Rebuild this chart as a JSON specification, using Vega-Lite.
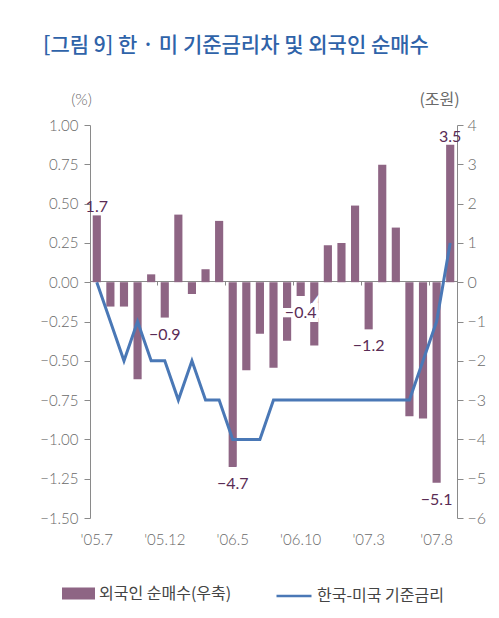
{
  "$schema": "https://vega.github.io/schema/vega-lite/v6.json",
  "width": 367,
  "height": 393,
  "autosize": "none",
  "padding": {"left": 90, "top": 125, "right": 42, "bottom": 100},
  "background": "white",
  "title": {
    "text": "[그림 9] 한 · 미 기준금리차 및 외국인 순매수",
    "anchor": "start",
    "frame": "group",
    "dx": -47,
    "dy": -31,
    "font": "Noto Sans CJK KR",
    "fontSize": 21,
    "fontWeight": 500,
    "color": "#2f63a9"
  },
  "data": {
    "values": [
      {"month": "'05.7", "net": 1.7, "rate": 0, "label": "1.7"},
      {"month": "'05.8", "net": -0.62, "rate": -0.25, "label": null},
      {"month": "'05.9", "net": -0.62, "rate": -0.5, "label": null},
      {"month": "'05.10", "net": -2.47, "rate": -0.25, "label": null},
      {"month": "'05.11", "net": 0.2, "rate": -0.5, "label": null},
      {"month": "'05.12", "net": -0.9, "rate": -0.5, "label": "−0.9"},
      {"month": "'06.1", "net": 1.72, "rate": -0.75, "label": null},
      {"month": "'06.2", "net": -0.3, "rate": -0.5, "label": null},
      {"month": "'06.3", "net": 0.33, "rate": -0.75, "label": null},
      {"month": "'06.4", "net": 1.56, "rate": -0.75, "label": null},
      {"month": "'06.5", "net": -4.7, "rate": -1.0, "label": "−4.7"},
      {"month": "'06.6", "net": -2.24, "rate": -1.0, "label": null},
      {"month": "'06.7", "net": -1.31, "rate": -1.0, "label": null},
      {"month": "'06.8", "net": -2.18, "rate": -0.75, "label": null},
      {"month": "'06.9", "net": -1.49, "rate": -0.75, "label": null},
      {"month": "'06.10", "net": -0.35, "rate": -0.75, "label": "−0.4"},
      {"month": "'06.11", "net": -1.61, "rate": -0.75, "label": null},
      {"month": "'06.12", "net": 0.94, "rate": -0.75, "label": null},
      {"month": "'07.1", "net": 1.0, "rate": -0.75, "label": null},
      {"month": "'07.2", "net": 1.95, "rate": -0.75, "label": null},
      {"month": "'07.3", "net": -1.2, "rate": -0.75, "label": "−1.2"},
      {"month": "'07.4", "net": 2.99, "rate": -0.75, "label": null},
      {"month": "'07.5", "net": 1.39, "rate": -0.75, "label": null},
      {"month": "'07.6", "net": -3.41, "rate": -0.75, "label": null},
      {"month": "'07.7", "net": -3.47, "rate": -0.5, "label": null},
      {"month": "'07.8", "net": -5.1, "rate": -0.25, "label": "−5.1"},
      {"month": "'07.9", "net": 3.5, "rate": 0.25, "label": "3.5"}
    ]
  },
  "encoding": {
    "x": {
      "field": "month",
      "type": "ordinal",
      "sort": null,
      "scale": {"paddingInner": 0.4, "paddingOuter": 0.2}
    }
  },
  "layer": [
    {
      "mark": {"type": "bar"},
      "encoding": {
        "x": {
          "field": "month",
          "type": "ordinal",
          "sort": null,
          "axis": {
            "orient": "bottom",
            "values": ["'05.7", "'05.12", "'06.5", "'06.10", "'07.3", "'07.8"],
            "domain": false,
            "ticks": false,
            "labelAngle": 0,
            "labelPadding": 14,
            "labelFont": "Lato",
            "labelFontWeight": 300,
            "labelFontSize": 15,
            "labelColor": "#6a6a6a",
            "title": null
          }
        },
        "y": {
          "field": "net",
          "type": "quantitative",
          "scale": {"domain": [-6, 4], "nice": false},
          "axis": {
            "orient": "right",
            "values": [4, 3, 2, 1, 0, -1, -2, -3, -4, -5, -6],
            "format": "d",
            "grid": false,
            "tickSize": 6,
            "tickColor": "#8a8a8a",
            "domainColor": "#8a8a8a",
            "labelPadding": 4,
            "labelFont": "Lato",
            "labelFontWeight": 300,
            "labelFontSize": 16,
            "labelColor": "#6a6a6a",
            "title": "(조원)",
            "titleAngle": 0,
            "titleX": -18,
            "titleY": -21,
            "titleAlign": "center",
            "titleBaseline": "alphabetic",
            "titleFont": "Noto Sans CJK KR",
            "titleFontWeight": "normal",
            "titleFontSize": 16,
            "titleColor": "#6a6a6a"
          }
        },
        "fill": {
          "datum": "외국인 순매수(우축)",
          "scale": {"range": ["#8e6584"]},
          "legend": {
            "orient": "none",
            "legendX": -28,
            "legendY": 452,
            "title": null,
            "symbolType": "M-1,-0.36H1V0.36H-1Z",
            "symbolSize": 1089,
            "symbolStrokeWidth": 0,
            "labelFont": "Noto Sans CJK KR",
            "labelFontSize": 16,
            "labelColor": "#444444",
            "labelOffset": 4,
            "padding": 0
          }
        }
      }
    },
    {
      "transform": [{"filter": "datum.label != null && datum.net < 0"}],
      "mark": {"type": "text", "baseline": "top", "dy": 9, "stroke": "white", "strokeWidth": 8, "fill": "white", "font": "Lato", "fontSize": 16},
      "encoding": {
        "x": {"field": "month", "type": "ordinal", "sort": null, "axis": null},
        "y": {"field": "net", "type": "quantitative", "scale": {"domain": [-6, 4], "nice": false}, "axis": null},
        "text": {"field": "label"}
      }
    },
    {
      "transform": [{"filter": "datum.label != null && datum.net < 0"}],
      "mark": {"type": "text", "baseline": "top", "dy": 9, "color": "#5a2c55", "font": "Lato", "fontSize": 16},
      "encoding": {
        "x": {"field": "month", "type": "ordinal", "sort": null, "axis": null},
        "y": {"field": "net", "type": "quantitative", "scale": {"domain": [-6, 4], "nice": false}, "axis": null},
        "text": {"field": "label"}
      }
    },
    {
      "transform": [{"filter": "datum.label != null && datum.net > 0"}],
      "mark": {"type": "text", "baseline": "alphabetic", "dy": -3, "color": "#5a2c55", "font": "Lato", "fontSize": 16},
      "encoding": {
        "x": {"field": "month", "type": "ordinal", "sort": null, "axis": null},
        "y": {"field": "net", "type": "quantitative", "scale": {"domain": [-6, 4], "nice": false}, "axis": null},
        "text": {"field": "label"}
      }
    },
    {
      "mark": {"type": "line", "strokeWidth": 3},
      "encoding": {
        "x": {
          "field": "month",
          "type": "ordinal",
          "sort": null,
          "axis": {
            "orient": "bottom",
            "offset": -237,
            "values": ["'05.7", "'05.12", "'06.5", "'06.10", "'07.3", "'07.8"],
            "bandPosition": -0.33,
            "domain": true,
            "domainColor": "#8a8a8a",
            "ticks": true,
            "tickSize": 4,
            "tickColor": "#8a8a8a",
            "labels": false,
            "title": null
          }
        },
        "y": {
          "field": "rate",
          "type": "quantitative",
          "scale": {"domain": [-1.5, 1], "nice": false},
          "axis": {
            "orient": "left",
            "values": [1, 0.75, 0.5, 0.25, 0, -0.25, -0.5, -0.75, -1, -1.25, -1.5],
            "format": ".2f",
            "grid": false,
            "tickSize": 6,
            "tickColor": "#8a8a8a",
            "domainColor": "#8a8a8a",
            "labelPadding": 6,
            "labelFont": "Lato",
            "labelFontWeight": 300,
            "labelFontSize": 15,
            "labelColor": "#6a6a6a",
            "title": "(%)",
            "titleAngle": 0,
            "titleX": -9,
            "titleY": -21,
            "titleAlign": "center",
            "titleBaseline": "alphabetic",
            "titleFont": "Lato",
            "titleFontWeight": 300,
            "titleFontSize": 16,
            "titleColor": "#6a6a6a"
          }
        },
        "stroke": {
          "datum": "한국-미국 기준금리",
          "scale": {"range": ["#4a78b6"]},
          "legend": {
            "orient": "none",
            "legendX": 185,
            "legendY": 452,
            "title": null,
            "symbolType": "stroke",
            "symbolSize": 1225,
            "symbolStrokeWidth": 2.5,
            "labelFont": "Noto Sans CJK KR",
            "labelFontSize": 16,
            "labelColor": "#444444",
            "labelOffset": 4,
            "padding": 0
          }
        }
      }
    }
  ],
  "resolve": {
    "scale": {"y": "independent"},
    "axis": {"x": "independent", "y": "independent"}
  },
  "config": {
    "view": {"stroke": null}
  }
}
